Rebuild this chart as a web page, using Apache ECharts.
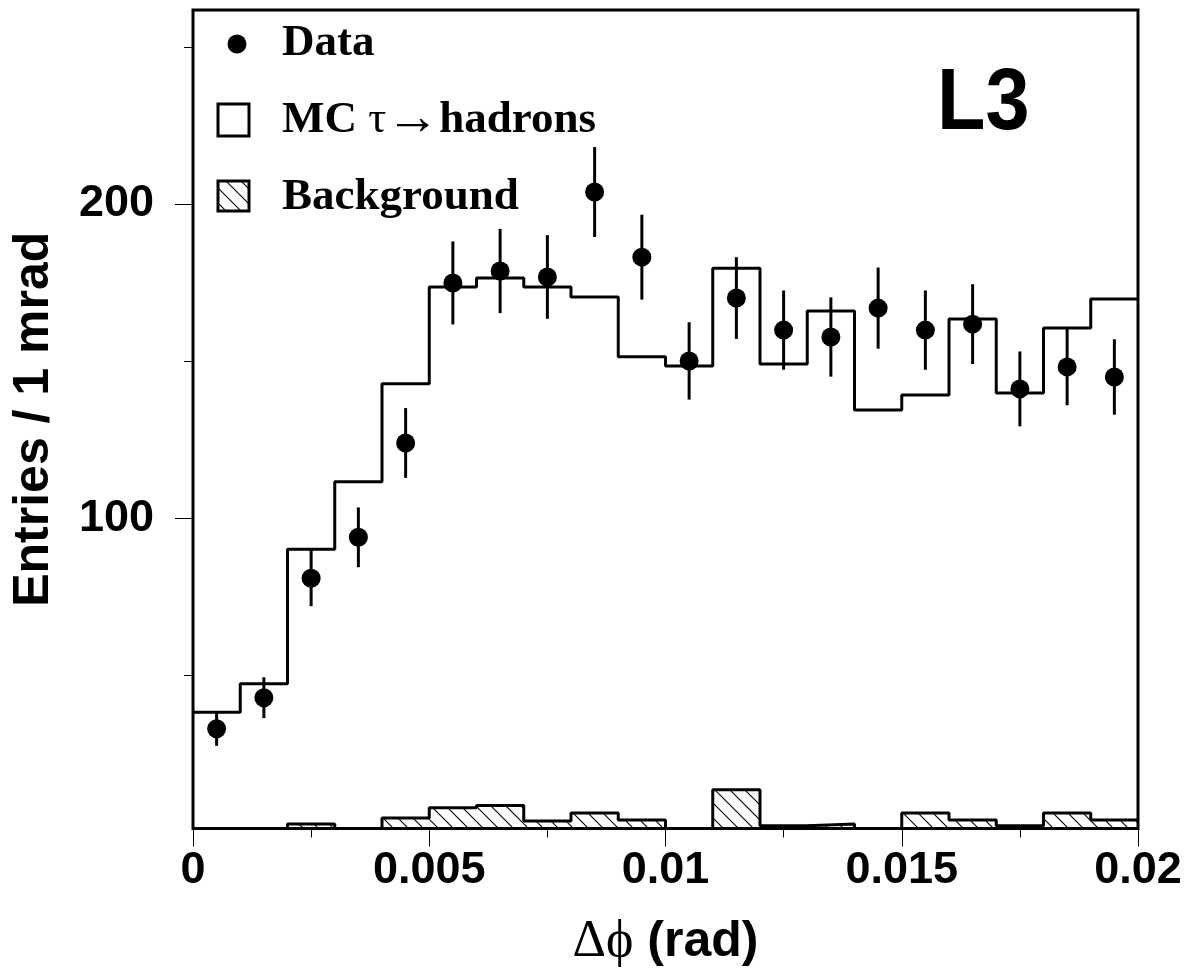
<!DOCTYPE html>
<html><head><meta charset="utf-8">
<script src="https://cdn.jsdelivr.net/npm/echarts@6/dist/echarts.min.js"></script>
<style>html,body{margin:0;padding:0;background:#fff}#c{width:1189px;height:974px}</style>
</head><body><div id="c"></div>
<script>
// ---- data ----
const binCenters = [0.0005,0.0015,0.0025,0.0035,0.0045,0.0055,0.0065,0.0075,0.0085,0.0095,
                    0.0105,0.0115,0.0125,0.0135,0.0145,0.0155,0.0165,0.0175,0.0185,0.0195];
const binWidth = 0.001;
const mcValues = [38.4,47.4,90.2,111.7,142.8,173.6,176.5,173.6,170.4,151.4,
                  148.5,179.6,149.1,166.0,134.5,139.3,163.4,139.9,160.6,169.8];
const dataValues = [33.1,43.0,81.0,94.0,124.0,174.9,178.7,176.8,203.8,183.1,
                    150.1,170.1,159.9,157.7,166.9,159.9,161.8,141.2,148.2,145.0];
const dataErrors = [5.4,6.5,8.9,9.5,11.1,13.2,13.4,13.3,14.3,13.5,
                    12.3,13.0,12.6,12.6,12.9,12.6,12.7,11.9,12.2,12.0];
const bgValues = [0,0,2.8,0,4.7,8.0,8.7,3.8,6.3,4.1,
                  0,13.7,2.3,2.8,0,6.3,4.1,2.3,6.3,4.1];
const xTickLabels = ['0','0.005','0.01','0.015','0.02'];
const yMajorTicks = [100,200];
const yMinorTicks = [50,150,250];
const yMin = 1.4, yMax = 261.7;

// ---- helpers ----
function makeHatch(){
  const s=15, c=document.createElement('canvas'); c.width=s; c.height=s;
  const g=c.getContext('2d'); g.strokeStyle='#000'; g.lineWidth=1.1;
  g.beginPath();
  g.moveTo(-2,-2); g.lineTo(s+2,s+2);
  g.moveTo(-2,s-2); g.lineTo(2,s+2);
  g.moveTo(s-2,-2); g.lineTo(s+2,2);
  g.stroke(); return c;
}
const hatch = makeHatch();
function stepPoints(vals){
  const pts = binCenters.map((c,i)=>[c-binWidth/2, vals[i]]);
  pts.push([binCenters[binCenters.length-1]+binWidth/2, vals[vals.length-1]]);
  return pts;
}

const SANS = 'Liberation Sans, Arial, Helvetica, sans-serif';
const SERIF = 'Liberation Serif, Times New Roman, serif';

const chart = echarts.init(document.getElementById('c'), null, {renderer:'canvas'});
chart.setOption({
  animation:false,
  backgroundColor:'#fff',
  grid:{left:193, right:51, top:10, bottom:145.5, show:true, borderColor:'#000', borderWidth:3, backgroundColor:'transparent'},
  xAxis:{
    type:'value', min:0, max:0.02, interval:0.005,
    axisLine:{show:false},
    axisTick:{show:true, length:18, lineStyle:{color:'#000', width:1}},
    minorTick:{show:true, splitNumber:2, length:9, lineStyle:{color:'#000', width:1}},
    splitLine:{show:false},
    axisLabel:{margin:20, color:'#000', fontFamily:SANS, fontWeight:'bold', fontSize:45,
      formatter:(v,idx)=>xTickLabels[idx]},
    name:'{s|\u0394\u03D5}{b| (rad)}', nameLocation:'middle', nameGap:88,
    nameTextStyle:{rich:{
      s:{fontFamily:SERIF, fontSize:52, fontWeight:'normal', color:'#000'},
      b:{fontFamily:SANS, fontSize:50, fontWeight:'bold', color:'#000'}}}
  },
  yAxis:[{
    type:'value', min:yMin, max:yMax, position:'left',
    axisLine:{show:false},
    axisTick:{show:true, length:18, customValues:yMajorTicks, lineStyle:{color:'#000', width:1}},
    splitLine:{show:false},
    axisLabel:{customValues:yMajorTicks, margin:39, color:'#000', fontFamily:SANS, fontWeight:'bold', fontSize:45},
    name:'Entries / 1 mrad', nameLocation:'middle', nameGap:134,
    nameTextStyle:{fontFamily:SANS, fontWeight:'bold', fontSize:50, color:'#000'}
  },{
    type:'value', min:yMin, max:yMax, position:'left',
    axisLine:{show:false},
    axisTick:{show:true, length:9, customValues:yMinorTicks, lineStyle:{color:'#000', width:1}},
    splitLine:{show:false},
    axisLabel:{show:false}
  }],
  series:[
    { // background hatch
      type:'custom', clip:true, z:2,
      data: binCenters.map((c,i)=>[c, bgValues[i]]),
      encode:{x:0,y:1},
      renderItem:(params, api)=>{
        const i = params.dataIndex, v = bgValues[i];
        if(!(v>0)) return null;
        const p0 = api.coord([binCenters[i]-binWidth/2, v]);
        const p1 = api.coord([binCenters[i]+binWidth/2, yMin]);
        return {type:'rect', shape:{x:p0[0], y:p0[1], width:p1[0]-p0[0], height:p1[1]-p0[1]},
          style:{fill:{image:hatch, repeat:'repeat'}, stroke:null}};
      }
    },
    { // background outline
      type:'line', step:'end', symbol:'none', clip:true, z:3,
      data: stepPoints(bgValues),
      lineStyle:{color:'#000', width:3}
    },
    { // MC
      type:'line', step:'end', symbol:'none', clip:true, z:3,
      data: stepPoints(mcValues),
      lineStyle:{color:'#000', width:3}
    },
    { // error bars
      type:'custom', z:4,
      data: binCenters.map((c,i)=>[c, dataValues[i], dataErrors[i]]),
      encode:{x:0,y:1},
      renderItem:(params, api)=>{
        const x=api.value(0), y=api.value(1), e=api.value(2);
        const a=api.coord([x,y-e]), b=api.coord([x,y+e]);
        return {type:'line', shape:{x1:a[0],y1:a[1],x2:b[0],y2:b[1]}, style:{stroke:'#000', lineWidth:3}};
      }
    },
    { // data points
      type:'scatter', z:5, symbol:'circle', symbolSize:19,
      data: binCenters.map((c,i)=>[c, dataValues[i]]),
      itemStyle:{color:'#000', opacity:1}
    }
  ],
  graphic:[
    {type:'circle', shape:{cx:237, cy:44, r:9.5}, style:{fill:'#000'}},
    {type:'text', x:282, y:43, style:{text:'Data', font:'bold 45px '+SERIF, fill:'#000', verticalAlign:'middle'}},
    {type:'rect', shape:{x:218, y:104, width:31, height:32}, style:{fill:'#fff', stroke:'#000', lineWidth:3}},
    {type:'text', x:282, y:120, style:{
      text:'{b|MC }{s|\u03C4}{a|\u2192}{b|hadrons}', verticalAlign:'middle',
      rich:{b:{font:'bold 45px '+SERIF, fill:'#000'}, s:{font:'45px '+SERIF, fill:'#000'},
            a:{font:'53px '+SERIF, fill:'#000'}}}},
    {type:'rect', shape:{x:218, y:181, width:31, height:30}, style:{fill:{image:hatch, repeat:'repeat'}, stroke:'#000', lineWidth:3}},
    {type:'text', x:282, y:197, style:{text:'Background', font:'bold 45px '+SERIF, fill:'#000', verticalAlign:'middle'}},
    {type:'text', x:937, y:105, scaleX:0.9, style:{text:'L3', font:'bold 88px '+SANS, fill:'#000', verticalAlign:'middle'}}
  ]
});
</script>
</body></html>
